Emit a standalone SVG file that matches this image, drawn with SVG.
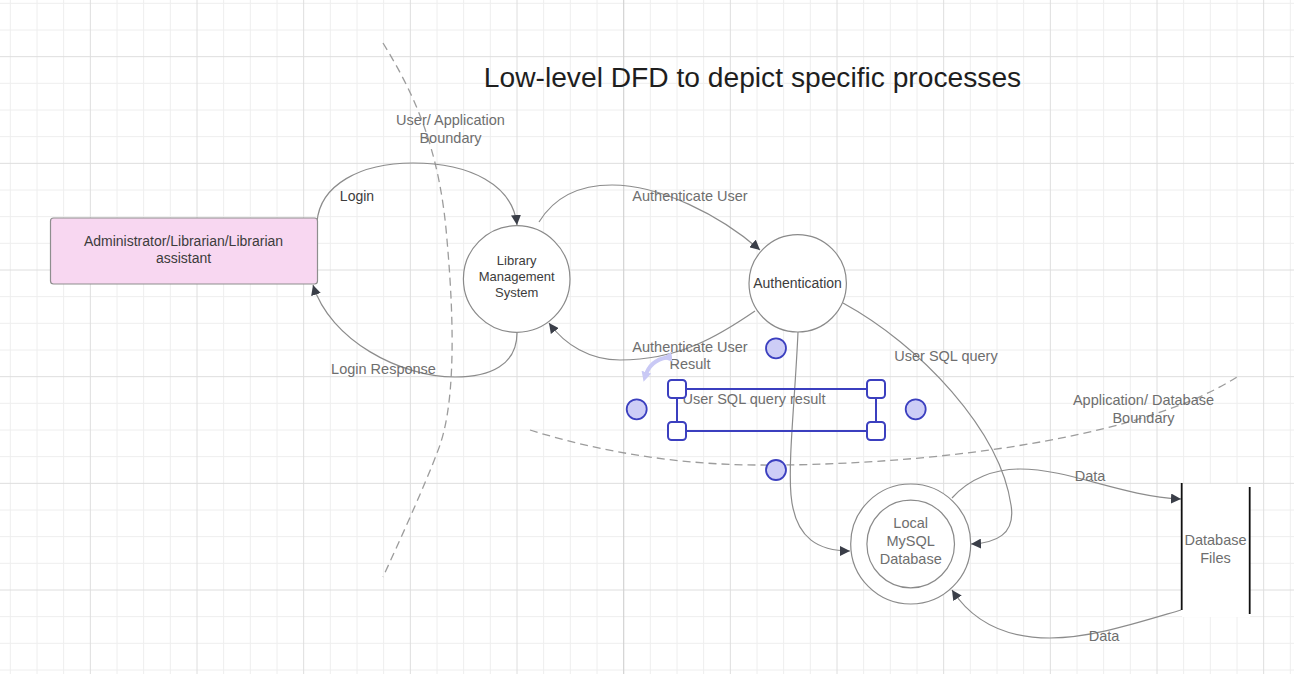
<svg xmlns="http://www.w3.org/2000/svg" width="1294" height="674" viewBox="0 0 1294 674">
<defs>
<style>
.gmin{stroke:#eeeeee;stroke-width:1;fill:none}
.gmaj{stroke:#dedede;stroke-width:1;fill:none}
.conn{fill:none;stroke:#8c8c8c;stroke-width:1.2}
.bound{fill:none;stroke:#9c9c9c;stroke-width:1.3;stroke-dasharray:8 5}
.node{fill:#ffffff;stroke:#8a8a8a;stroke-width:1.2}
.lbl{font-family:"Liberation Sans",Arial,sans-serif;font-size:14.5px;fill:#6e6e6e;text-anchor:middle;dominant-baseline:central}
.dark{fill:#3c3c3c}
.hnd{fill:#ffffff;stroke:#3b3fbf;stroke-width:2}
.pt{fill:#cdcdf6;stroke:#3b3fbf;stroke-width:1.8}
</style>
<marker id="arr" viewBox="0 0 10 10" refX="10" refY="5" markerWidth="10" markerHeight="10" markerUnits="userSpaceOnUse" orient="auto">
<path d="M0,0 L10,5 L0,10 z" fill="#3a3e48"/>
</marker>
<marker id="larr" viewBox="0 0 10 10" refX="5" refY="5" markerWidth="10" markerHeight="10" markerUnits="userSpaceOnUse" orient="auto">
<path d="M0,0 L10,5 L0,10 z" fill="#c9c9f5"/>
</marker>
</defs>
<rect width="1294" height="674" fill="#ffffff"/>
<g id="grid">
<path class="gmin" d="M10.33 0V674M37 0V674M63.67 0V674M117 0V674M143.67 0V674M170.33 0V674M223.67 0V674M250.33 0V674M277 0V674M330.33 0V674M357 0V674M383.67 0V674M437 0V674M463.67 0V674M490.33 0V674M543.67 0V674M570.33 0V674M597 0V674M650.33 0V674M677 0V674M703.67 0V674M757 0V674M783.67 0V674M810.33 0V674M863.67 0V674M890.33 0V674M917 0V674M970.33 0V674M997 0V674M1023.67 0V674M1077 0V674M1103.67 0V674M1130.33 0V674M1183.67 0V674M1210.33 0V674M1237 0V674M1290.33 0V674M0 3.33H1294M0 30H1294M0 83.33H1294M0 110H1294M0 136.67H1294M0 190H1294M0 216.67H1294M0 243.33H1294M0 296.67H1294M0 323.33H1294M0 350H1294M0 403.33H1294M0 430H1294M0 456.67H1294M0 510H1294M0 536.67H1294M0 563.33H1294M0 616.67H1294M0 643.33H1294M0 670H1294"/>
<path class="gmaj" d="M90.33 0V674M197 0V674M303.67 0V674M410.33 0V674M517 0V674M730.33 0V674M837 0V674M943.67 0V674M1050.33 0V674M1157 0V674M1263.67 0V674M0 56.67H1294M0 163.33H1294M0 270H1294M0 376.67H1294M0 483.33H1294M0 590H1294"/>
<path d="M623.67 0V674" stroke="#d4d4d4" stroke-width="1.2" fill="none"/>
</g>
<text x="752.5" y="77" font-family="Liberation Sans, Arial, sans-serif" font-size="28.2" fill="#1e1e1e" text-anchor="middle" dominant-baseline="central">Low-level DFD to depict specific processes</text>
<g id="boundaries">
<path class="bound" d="M383,43 C415,95 440,150 447,240 C455,330 455,410 437,453 C425,485 400,540 383,577"/>
<path class="bound" d="M530,430 C600,452 680,465 760,465 C900,466 1130,445 1237,377"/>
<text class="lbl" x="450.5" y="120">User/ Application</text>
<text class="lbl" x="450.5" y="137.5">Boundary</text>
<text class="lbl" x="1143.5" y="400">Application/ Database</text>
<text class="lbl" x="1143.5" y="417.5">Boundary</text>
</g>
<g id="connectors">
<path class="conn" marker-end="url(#arr)" d="M317,222 C320,185 360,163 413,163 C470,163 513,185 517,225"/>
<path class="conn" marker-end="url(#arr)" d="M517,333 C517,365 490,377 455,377 C400,377 330,340 313,285"/>
<path class="conn" marker-end="url(#arr)" d="M539,222 C555,196 580,185 612,185 C660,185 720,215 760,250"/>
<path class="conn" marker-end="url(#arr)" d="M755,311 C720,335 680,360 620,360 C590,360 565,345 549,323"/>
<path class="conn" marker-end="url(#arr)" d="M843,303 C920,345 1000,430 1011,505 C1016,535 995,543 971,544"/>
<path class="conn" marker-end="url(#arr)" d="M798,332 C795,400 788,460 791,495 C795,540 820,551 850,551"/>
<path class="conn" marker-end="url(#arr)" d="M952,498 C970,478 995,469 1020,469 C1070,469 1120,496 1181,499"/>
<path class="conn" marker-end="url(#arr)" d="M1181,610 C1130,625 1090,638 1050,638 C1010,638 975,625 952,590"/>
<text class="lbl dark" x="357" y="195.5" style="font-size:14px">Login</text>
<text class="lbl" x="383.5" y="368.5">Login Response</text>
<text class="lbl" x="690" y="195.5">Authenticate User</text>
<text class="lbl" x="690" y="346.5">Authenticate User</text>
<text class="lbl" x="690" y="364">Result</text>
<text class="lbl" x="946" y="355.5">User SQL query</text>
<text class="lbl" x="754" y="399">User SQL query result</text>
<text class="lbl" x="1090" y="475.5">Data</text>
<text class="lbl" x="1104" y="635.5">Data</text>
</g>
<g id="admin">
<rect x="50.5" y="218" width="267" height="66" rx="3" fill="#f8d7f1" stroke="#8e8e8e" stroke-width="1.2"/>
<text class="lbl dark" x="183.5" y="240.5" style="font-size:14px">Administrator/Librarian/Librarian</text>
<text class="lbl dark" x="183.5" y="258" style="font-size:14px">assistant</text>
</g>
<g id="lms">
<circle class="node" cx="516.7" cy="279" r="53.3"/>
<text class="lbl dark" x="516.7" y="260.7" style="font-size:13px">Library</text>
<text class="lbl dark" x="516.7" y="276.7" style="font-size:13px">Management</text>
<text class="lbl dark" x="516.7" y="292.5" style="font-size:13px">System</text>
</g>
<g id="authentication">
<circle class="node" cx="797.7" cy="283.3" r="48.7"/>
<text class="lbl dark" x="797.5" y="282.7" style="font-size:14px">Authentication</text>
</g>
<g id="mysql">
<circle class="node" cx="910.7" cy="544" r="60"/>
<circle class="node" cx="910.7" cy="544" r="43.8"/>
<text class="lbl" x="910.7" y="523.3">Local</text>
<text class="lbl" x="910.7" y="541">MySQL</text>
<text class="lbl" x="910.7" y="559">Database</text>
</g>
<g id="dbfiles">
<rect x="1182" y="484" width="68" height="133" fill="#ffffff"/>
<path d="M1181.7,483 V610 M1249.7,487 V614" stroke="#111111" stroke-width="1.8" fill="none"/>
<text class="lbl" x="1215.5" y="540">Database</text>
<text class="lbl" x="1215.5" y="557.7">Files</text>
</g>
<g id="selection">
<rect x="677" y="389" width="199" height="42" fill="none" stroke="#d8d8f4" stroke-width="1.5"/>
<path d="M677,389 H876 V431 H677 Z" fill="none" stroke="#3b3fbf" stroke-width="2"/>
<rect class="hnd" x="668" y="380" width="18" height="18" rx="3.5"/>
<rect class="hnd" x="867" y="380" width="18" height="18" rx="3.5"/>
<rect class="hnd" x="668" y="422" width="18" height="18" rx="3.5"/>
<rect class="hnd" x="867" y="422" width="18" height="18" rx="3.5"/>
<circle class="pt" cx="776" cy="348.3" r="10"/>
<circle class="pt" cx="636.7" cy="409.3" r="10"/>
<circle class="pt" cx="915.7" cy="409.3" r="10"/>
<circle class="pt" cx="776" cy="470" r="10"/>
<path d="M667,357.5 Q650,360 645,377" fill="none" stroke="#c9c9f5" stroke-width="4" marker-start="url(#larr)" marker-end="url(#larr)"/>
</g>
</svg>
